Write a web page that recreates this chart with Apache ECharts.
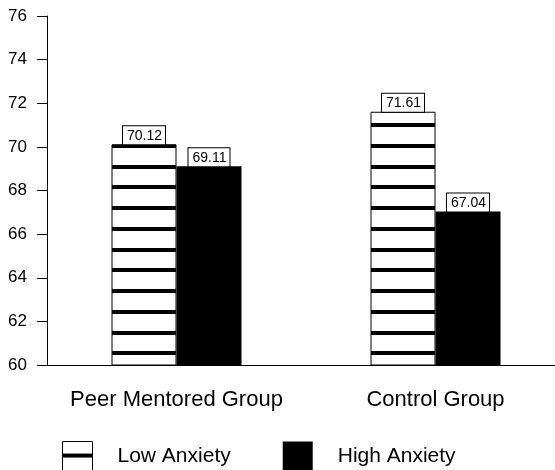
<!DOCTYPE html>
<html>
<head>
<meta charset="utf-8">
<script src="https://cdn.jsdelivr.net/npm/echarts@6/dist/echarts.min.js"></script>
<style>
  html, body { margin: 0; padding: 0; background: #fff; }
  #barChart { width: 555px; height: 470px; }
</style>
</head>
<body>
<div id="barChart"></div>
<script>
var categories = ['Peer Mentored Group', 'Control Group'];
var legendData = ['Low Anxiety', 'High Anxiety'];
var lowAnxiety = [70.12, 71.61];
var highAnxiety = [69.11, 67.04];
var yTicks = [60, 62, 64, 66, 68, 70, 72, 74, 76];

var FONT = '"Liberation Sans", Arial, sans-serif';

// white with black horizontal stripes for the low anxiety bars
// (stripe pitch ~20.75px, so the tile holds 12 stripes)
var stripe = document.createElement('canvas');
stripe.width = 8;
stripe.height = 249;
var sctx = stripe.getContext('2d');
sctx.fillStyle = '#fff';
sctx.fillRect(0, 0, 8, 249);
sctx.fillStyle = '#000';
for (var i = 0; i < 12; i++) {
	var c = (125 + 20.75 * i) % 249;
	var y0 = Math.round(c - 2);
	sctx.fillRect(0, y0, 8, 4);
	sctx.fillRect(0, y0 - 249, 8, 4);
	sctx.fillRect(0, y0 + 249, 8, 4);
}

// legend icon: one stripe through the middle
var stripeIcon = document.createElement('canvas');
stripeIcon.width = 8;
stripeIcon.height = 60;
var ictx = stripeIcon.getContext('2d');
ictx.fillStyle = '#fff';
ictx.fillRect(0, 0, 8, 60);
ictx.fillStyle = '#000';
ictx.fillRect(0, 12, 8, 4);

var myChart = echarts.init(document.getElementById('barChart'));

// boxed value labels on top of bars
var boxLabel = {
	show: true,
	position: 'top',
	distance: 0,
	color: '#000',
	fontFamily: FONT,
	fontSize: 14,
	lineHeight: 15,
	backgroundColor: '#fff',
	borderColor: '#000',
	borderWidth: 1,
	padding: [2, 3, 1, 4],
	formatter: function(p) { return p.value.toFixed(2); }
};

var option = {
	backgroundColor: '#fff',
	animation: false,
	grid: { left: 47, right: -10, top: 16, bottom: 105, outerBoundsMode: 'none', containLabel: false },
	legend: {
		data: [{
			name: legendData[0],
			itemStyle: { color: { image: stripeIcon, repeat: 'repeat' }, borderColor: '#000', borderWidth: 1 }
		}, {
			name: legendData[1]
		}],
		left: 62,
		top: 441,
		padding: 0,
		itemWidth: 30,
		itemHeight: 30,
		itemGap: 52,
		icon: 'rect',
		textStyle: { fontFamily: FONT, fontSize: 21, color: '#000', padding: [0, 0, 0, 20] }
	},
	xAxis: {
		type: 'category',
		data: categories,
		axisLine: { lineStyle: { color: '#000', width: 1 } },
		axisTick: { alignWithLabel: true, length: 12, lineStyle: { color: '#000' } },
		axisLabel: { interval: 0, color: '#000', fontFamily: FONT, fontSize: 22, margin: 24 }
	},
	yAxis: {
		type: 'value',
		min: yTicks[0],
		max: yTicks[yTicks.length - 1],
		interval: 2,
		splitLine: { show: false },
		axisLine: { show: true, lineStyle: { color: '#000', width: 1 } },
		axisTick: { show: true, length: 10, lineStyle: { color: '#000' } },
		axisLabel: { color: '#000', fontFamily: FONT, fontSize: 17, margin: 20 }
	},
	series: [{
		name: legendData[0],
		type: 'bar',
		data: lowAnxiety,
		barWidth: 65,
		barGap: '0%',
		itemStyle: {
			color: { image: stripe, repeat: 'repeat' },
			borderColor: '#000',
			borderWidth: 1
		},
		label: boxLabel
	}, {
		name: legendData[1],
		type: 'bar',
		data: highAnxiety,
		barWidth: 65,
		itemStyle: { color: '#000' },
		label: boxLabel
	}]
};

myChart.setOption(option);
</script>
</body>
</html>
